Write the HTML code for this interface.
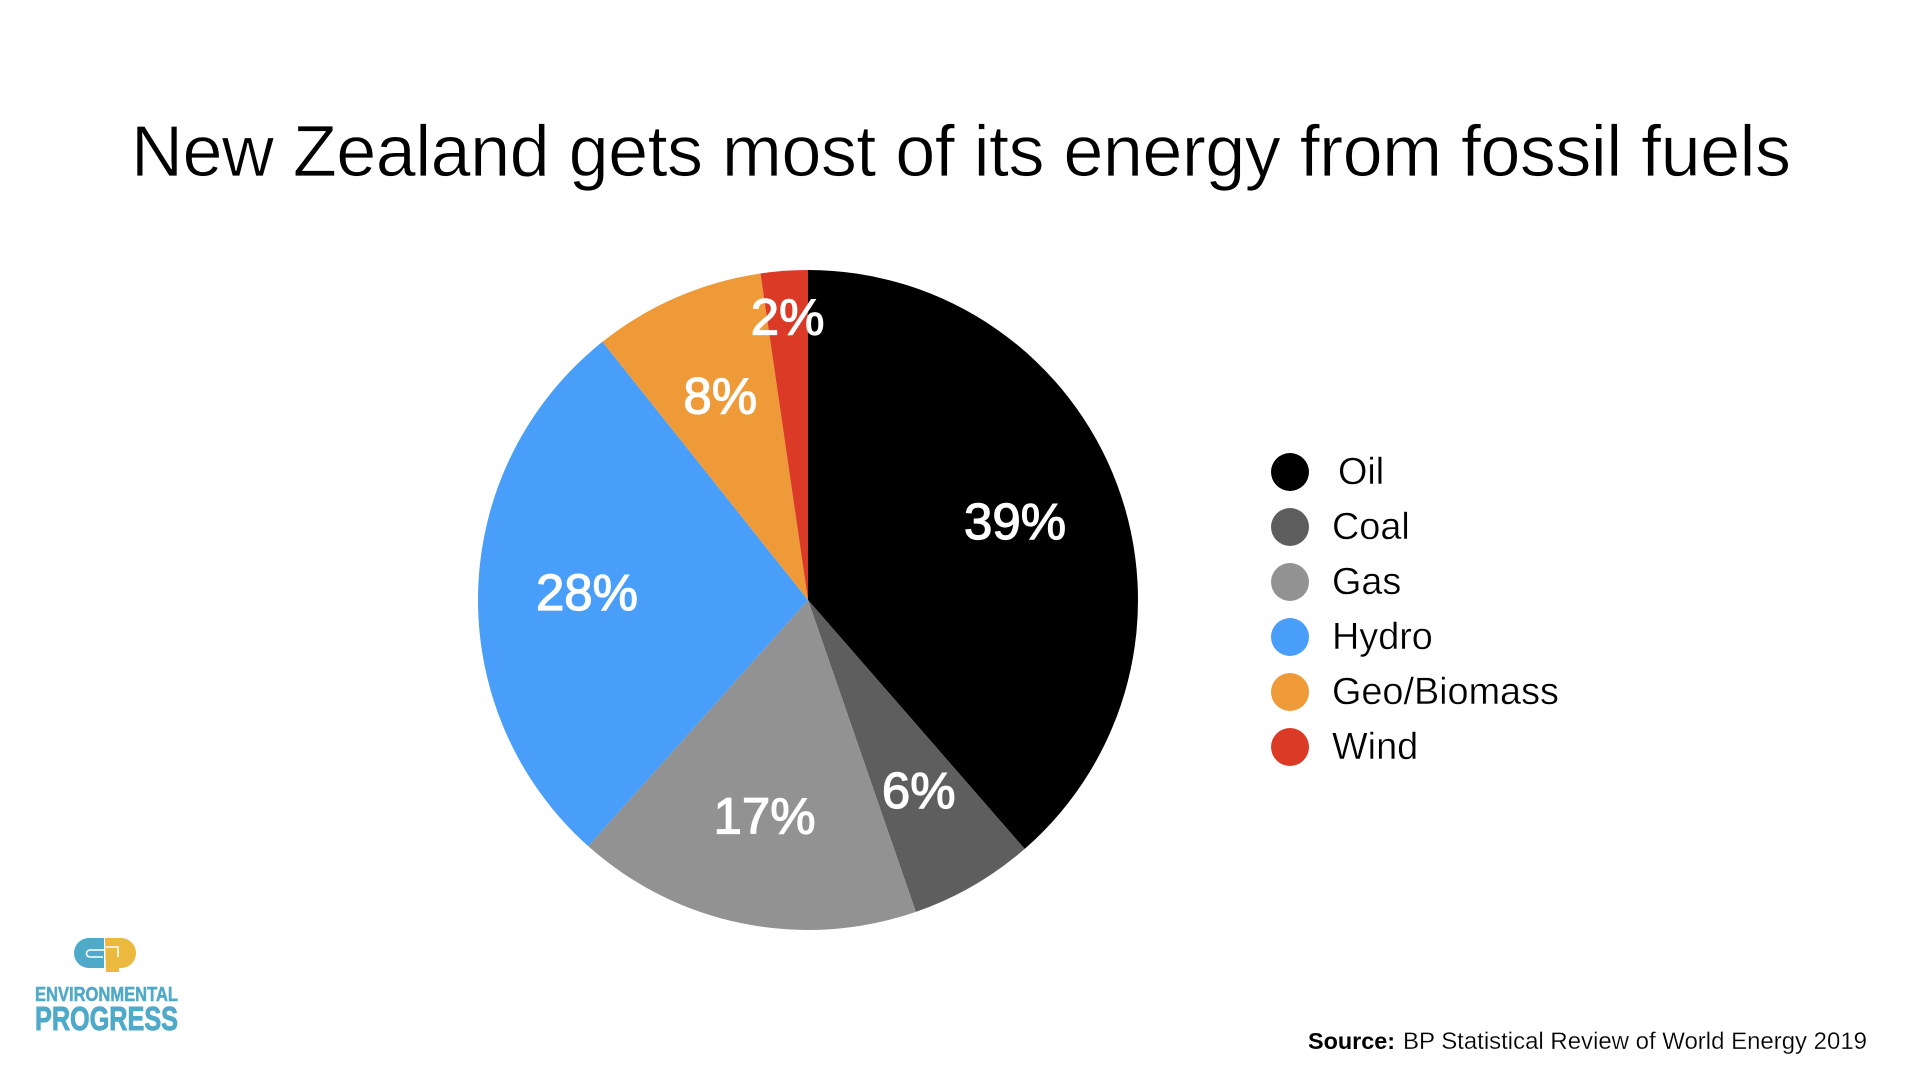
<!DOCTYPE html>
<html lang="en">
<head>
<meta charset="utf-8">
<title>New Zealand gets most of its energy from fossil fuels</title>
<style>
  html, body { margin: 0; padding: 0; background: #fff; }
  svg { display: block; font-family: "Liberation Sans", sans-serif; }
</style>
</head>
<body>
<svg id="chart" xmlns="http://www.w3.org/2000/svg" width="1920" height="1080" viewBox="0 0 1920 1080">
  <rect width="1920" height="1080" fill="#ffffff"/>
  <text x="131" y="176" font-size="72" fill="#000" stroke="#fff" stroke-width="0.8" textLength="1660" lengthAdjust="spacing">New Zealand gets most of its energy from fossil fuels</text>
  <g id="pie"></g>
  <g id="legend"></g>

  <g>
    <path d="M104 938H89a15 15 0 0 0 0 30H104Z" fill="#4fa9c9"/>
    <path d="M104 950H90a3.5 3.5 0 0 0 0 7H103" fill="none" stroke="#fff" stroke-width="1.6"/>
    <path d="M105 938H121a15 15 0 0 1 0 30H119V972H106Z" fill="#eab93d"/>
    <path d="M106 947H118V957" fill="none" stroke="#fff" stroke-width="1.6"/>
    <text x="35" y="1001" font-size="20" font-weight="700" fill="#4fa9c9" stroke="#4fa9c9" stroke-width="0.5" textLength="143" lengthAdjust="spacingAndGlyphs">ENVIRONMENTAL</text>
    <text x="35" y="1030" font-size="33" font-weight="700" fill="#4fa9c9" stroke="#4fa9c9" stroke-width="0.9" textLength="143" lengthAdjust="spacingAndGlyphs">PROGRESS</text>
  </g>

  <text x="1308" y="1049" font-size="23" font-weight="700" fill="#000" textLength="87" lengthAdjust="spacingAndGlyphs">Source:</text>
  <text x="1403" y="1049" font-size="24" fill="#000" stroke="#fff" stroke-width="0.25" textLength="464" lengthAdjust="spacingAndGlyphs">BP Statistical Review of World Energy 2019</text>
</svg>

<script>
const categories = ["Oil", "Coal", "Gas", "Hydro", "Geo/Biomass", "Wind"];
const shares = [38.6, 6.1, 16.9, 27.7, 8.4, 2.3];
const printedValues = ["39%", "6%", "17%", "28%", "8%", "2%"];
const colors = ["#000000", "#5e5e5e", "#929292", "#489ef9", "#ef9a38", "#da3a26"];

const NS = "http://www.w3.org/2000/svg";
const cx = 808, cy = 600, radius = 330;
const total = shares.reduce(function (a, b) { return a + b; }, 0);

function angleOf(cum) { return cum / total * 2 * Math.PI; }
function px(a, r) { return cx + r * Math.sin(a); }
function py(a, r) { return cy - r * Math.cos(a); }

const pie = document.getElementById("pie");
let cumulative = 0;
const slices = [];
shares.forEach(function (v, i) {
  const a0 = angleOf(cumulative);
  const a1 = angleOf(cumulative + v);
  cumulative += v;
  const large = (a1 - a0) > Math.PI ? 1 : 0;
  const path = document.createElementNS(NS, "path");
  path.setAttribute("d", "M" + cx + " " + cy + "L" + px(a0, radius) + " " + py(a0, radius) +
    "A" + radius + " " + radius + " 0 " + large + " 1 " + px(a1, radius) + " " + py(a1, radius) + "Z");
  path.setAttribute("fill", colors[i]);
  
  
  pie.appendChild(path);
  slices.push({ mid: (a0 + a1) / 2, share: v / total });
});

slices.forEach(function (s, i) {
  // Very thin slices push their label toward the rim.
  const r = radius * (s.share < 0.03 ? 0.857 : 0.67);
  const t = document.createElementNS(NS, "text");
  t.setAttribute("x", px(s.mid, r));
  t.setAttribute("y", py(s.mid, r) + 16.5);
  t.setAttribute("text-anchor", "middle");
  t.setAttribute("font-size", "51");
  t.setAttribute("fill", "#ffffff");
  t.setAttribute("stroke", "#ffffff");
  t.setAttribute("stroke-width", "1.2");
  t.textContent = printedValues[i];
  
  
  pie.appendChild(t);
});

const legend = document.getElementById("legend");
categories.forEach(function (name, i) {
  const y = 472 + i * 55;
  const dot = document.createElementNS(NS, "circle");
  dot.setAttribute("cx", 1290);
  dot.setAttribute("cy", y);
  dot.setAttribute("r", 19);
  dot.setAttribute("fill", colors[i]);
  
  
  legend.appendChild(dot);
  const label = document.createElementNS(NS, "text");
  label.setAttribute("x", i === 0 ? 1338 : 1332);
  label.setAttribute("y", y + 12);
  label.setAttribute("font-size", "37.8");
  label.setAttribute("fill", "#000");
  label.setAttribute("stroke", "#fff");
  label.setAttribute("stroke-width", "0.4");
  label.textContent = name;
  
  
  legend.appendChild(label);
});
</script>
</body>
</html>
